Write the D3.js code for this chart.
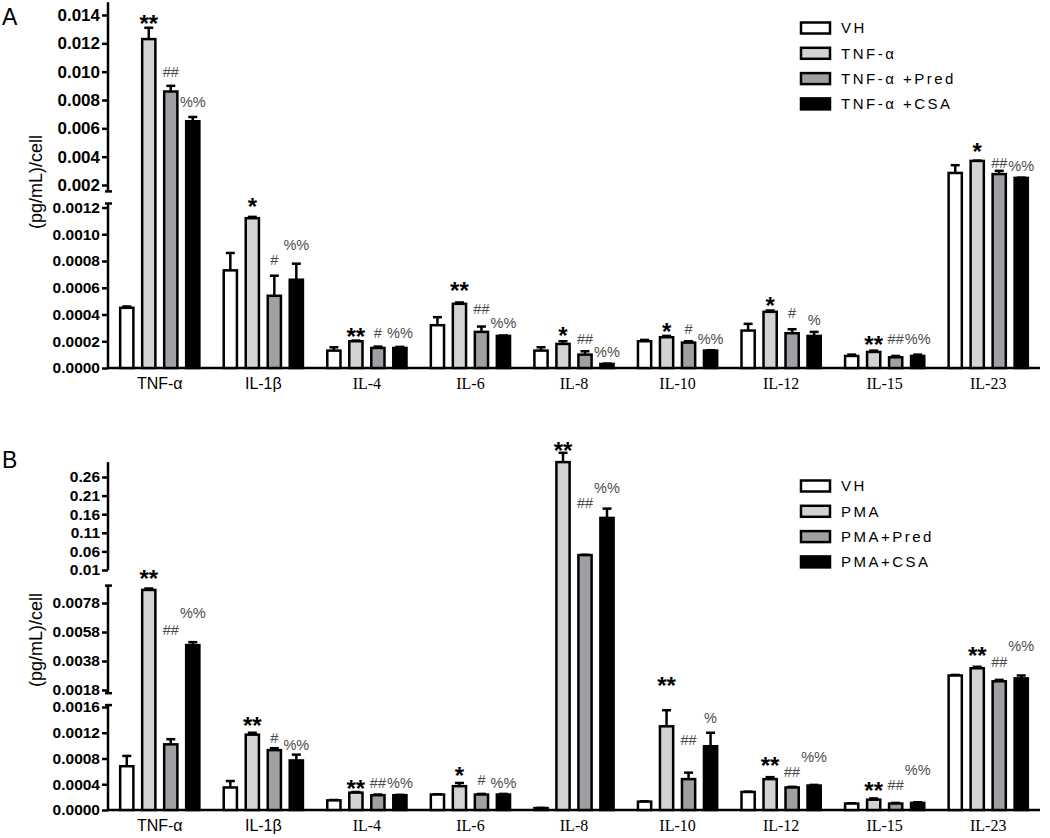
<!DOCTYPE html>
<html><head><meta charset="utf-8">
<script src="https://cdn.jsdelivr.net/npm/d3@7"></script>
<style>body{margin:0;background:#fff}</style>
</head><body><svg id="c" width="1050" height="838"></svg>
<script>
// ---------- DATA ----------
const categories = ["TNF-α","IL-1β","IL-4","IL-6","IL-8","IL-10","IL-12","IL-15","IL-23"];
const seriesA = ["VH","TNF-α","TNF-α +Pred","TNF-α +CSA"];
const seriesB = ["VH","PMA","PMA+Pred","PMA+CSA"];

// Panel A means and SEM
const aVH      = [0.00045, 0.00073, 0.00013, 0.00032, 0.00013, 0.00020, 0.00028, 0.00009, 0.00285];
const aVHsem   = [0.00001, 0.00013, 0.000025,0.00006, 0.000025,0.00001, 0.00005, 0.00001, 0.00055];
const aTNF     = [0.0123,  0.00112, 0.00020, 0.00048, 0.00018, 0.00023, 0.00042, 0.00012, 0.00370];
const aTNFsem  = [0.0008,  0.00001, 0.000005,0.00001, 0.00002, 0.00001, 0.00001, 0.00001, 0.00002];
const aPred    = [0.0086,  0.00054, 0.00015, 0.00027, 0.00010, 0.00019, 0.00026, 0.00008, 0.00277];
const aPredsem = [0.0004,  0.00015, 0.00001, 0.00004, 0.000025,0.00001, 0.00003, 0.00001, 0.00023];
const aCSA     = [0.0065,  0.00066, 0.00015, 0.00024, 0.00003, 0.00013, 0.00024, 0.00009, 0.00250];
const aCSAsem  = [0.0003,  0.00012, 0.000008,0.000003,0.000003,0.000003,0.00003, 0.00001, 0.00002];

// Panel B means and SEM
const bVH      = [0.00068, 0.00035, 0.00015, 0.00024, 0.00003, 0.00013, 0.00028, 0.00010, 0.0028];
const bVHsem   = [0.00016, 0.00010, 0.000005,0.000005,0.000003,0.000005,0.000005,0.000005,0.00004];
const bPMA     = [0.0087,  0.00117, 0.00027, 0.00037, 0.30,    0.00130, 0.00048, 0.00016, 0.0033];
const bPMAsem  = [0.0001,  0.00003, 0.00001, 0.00005, 0.025,   0.00025, 0.00003, 0.00002, 0.0001];
const bPred    = [0.00102, 0.00093, 0.00023, 0.00024, 0.050,   0.00048, 0.00035, 0.00010, 0.0024];
const bPredsem = [0.00008, 0.00003, 0.00001, 0.00001, 0.001,   0.00010, 0.00001, 0.00001, 0.0001];
const bCSA     = [0.0049,  0.00077, 0.00023, 0.00024, 0.150,   0.00099, 0.00038, 0.00011, 0.0026];
const bCSAsem  = [0.0002,  0.00009, 0.000005,0.00001, 0.025,   0.00021, 0.00001, 0.00001, 0.0002];

// Significance labels and the value each label is anchored at
const aSigTNF  = ["**","*","**","**","*","*","*","**","*"];
const aSigPred = ["##","#","#","##","##","#","#","##","##"];
const aSigCSA  = ["%%","%%","%%","%%","%%","%%","%","%%","%%"];
const aAtTNF   = [0.0138, 0.00125, 0.00028, 0.00062, 0.00029, 0.00032, 0.00051, 0.00022, 0.00475];
const aAtPred  = [0.00998,0.00081, 0.00026, 0.00044, 0.00022, 0.00029, 0.00041, 0.00022, 0.00355];
const aAtCSA   = [0.00786,0.00092, 0.00026, 0.00034, 0.00012, 0.00022, 0.00036, 0.00022, 0.00334];

const bSigPMA  = ["**","**","**","*","**","**","**","**","**"];
const bSigPred = ["##","#","##","#","##","##","##","##","##"];
const bSigCSA  = ["%%","%%","%%","%%","%%","%","%%","%%","%%"];
const bAtPMA   = [0.0099, 0.0014,  0.00043, 0.00062, 0.346, 0.00202, 0.00078, 0.00039, 0.00456];
const bAtPred  = [0.0028, 0.00112, 0.00043, 0.00047, 0.19,  0.00109, 0.00059, 0.00039, 0.00373];
const bAtCSA   = [0.0071, 0.00101, 0.00043, 0.00042, 0.23,  0.00144, 0.00082, 0.00062, 0.00484];

// Tick values
const ticksAUpper = [0.002,0.004,0.006,0.008,0.010,0.012,0.014];
const ticksALower = [0,0.0002,0.0004,0.0006,0.0008,0.0010,0.0012];
const ticksBTop   = [0.01,0.06,0.11,0.16,0.21,0.26];
const ticksBMid   = [0.0018,0.0038,0.0058,0.0078];
const ticksBLow   = [0,0.0004,0.0008,0.0012,0.0016];

// ---------- DRAWING ----------
const fills = ["#ffffff","#d3d3d3","#a0a0a4","#000000"];
const svg = d3.select("#c");
const SANS = "'Liberation Sans', Arial, sans-serif";
const SERIF = "'Liberation Serif', 'Times New Roman', serif";
const AX = 108, XR = 1040;

const x0 = d3.scaleBand().domain(categories).range([AX, XR]);
const x1 = d3.scaleBand().domain([0,1,2,3]).range([-44, 44]).paddingInner(0.4).paddingOuter(0.2);

function drawPanel(p) {
  const g = svg.append("g");
  const segFor = v => p.segments.find(s => p.pick(v) === s.id);

  // axis segments
  p.segments.forEach(s => {
    const y0 = s.scale(s.extent[0]), y1 = s.scale(s.extent[1]);
    g.append("line").attr("x1", AX).attr("x2", AX).attr("y1", y0).attr("y2", y1)
      .attr("stroke", "#000").attr("stroke-width", 2.5);
    s.caps.forEach(c => {
      const yy = s.scale(s.extent[c]);
      g.append("line").attr("x1", AX - 3).attr("x2", AX + 4).attr("y1", yy).attr("y2", yy)
        .attr("stroke", "#000").attr("stroke-width", 2.5);
    });
    const ax = g.append("g").attr("transform", `translate(${AX},0)`)
      .call(d3.axisLeft(s.scale).tickValues(s.ticks).tickFormat(s.fmt).tickSize(6).tickPadding(2));
    ax.select(".domain").remove();
    ax.selectAll(".tick line").attr("stroke", "#000").attr("stroke-width", 2.5);
    ax.selectAll(".tick text").attr("fill", "#000").style("font-family", SANS)
      .style("font-weight", "bold").style("font-size", s.fontSize + "px");
  });

  // x axis
  g.append("line").attr("x1", AX).attr("x2", XR).attr("y1", p.base).attr("y2", p.base)
    .attr("stroke", "#000").attr("stroke-width", 2.5);
  categories.forEach((c, i) => {
    g.append("text").attr("x", x0(c) + x0.bandwidth() / 2).attr("y", p.base + 21)
      .attr("text-anchor", "middle").style("font-family", i < 2 ? SANS : SERIF)
      .style("font-size", "16px").text(c);
  });

  // bars
  const bw = x1.bandwidth();
  p.means.forEach((arr, j) => {
    arr.forEach((v, i) => {
      const s = segFor(v);
      const cx = x0(categories[i]) + x0.bandwidth() / 2 + x1(j) + bw / 2;
      const y = s.scale(v);
      const sem = p.sems[j][i];
      if (sem > 0) {
        const yt = s.scale(v + sem);
        g.append("line").attr("x1", cx).attr("x2", cx).attr("y1", y).attr("y2", yt)
          .attr("stroke", "#000").attr("stroke-width", 2.5);
        g.append("line").attr("x1", cx - 4.5).attr("x2", cx + 4.5).attr("y1", yt).attr("y2", yt)
          .attr("stroke", "#000").attr("stroke-width", 2.5);
      }
      g.append("rect").attr("x", cx - bw / 2).attr("y", y).attr("width", bw)
        .attr("height", p.base - y).attr("fill", fills[j]).attr("stroke", "#000").attr("stroke-width", 2.5);
    });
  });

  // significance marks
  p.sigs.forEach((labs, k) => {
    const j = k + 1;
    labs.forEach((lab, i) => {
      const s = segFor(p.means[j][i]);
      const cx = x0(categories[i]) + x0.bandwidth() / 2 + x1(j) + bw / 2;
      const star = lab[0] === "*";
      g.append("text").attr("x", cx).attr("y", s.scale(p.sigAt[k][i]))
        .attr("dy", star ? "0.6em" : "0.36em").attr("text-anchor", "middle")
        .attr("fill", star ? "#000" : "#4a4a4a")
        .style("font-family", SANS).style("font-weight", star ? "bold" : "normal")
        .style("font-size", star ? "24px" : "14.5px").text(lab);
    });
  });

  // legend
  p.series.forEach((name, j) => {
    const yy = p.legendY + j * p.legendStep;
    g.append("rect").attr("x", 801).attr("y", yy - 5.5).attr("width", 29).attr("height", 11)
      .attr("fill", fills[j]).attr("stroke", "#000").attr("stroke-width", 2.5);
    g.append("text").attr("x", 841).attr("y", yy).attr("dy", "0.35em")
      .style("font-family", SANS).style("font-size", "15px").style("letter-spacing", "2.5px").text(name);
  });

  // y label and panel letter
  g.append("text").attr("transform", `translate(42,${p.labelY}) rotate(-90)`)
    .attr("text-anchor", "middle").style("font-family", SANS).style("font-size", "18px")
    .text("(pg/mL)/cell");
  g.append("text").attr("x", 2).attr("y", p.letterY).style("font-family", SANS)
    .style("font-size", "23px").text(p.letter);
}

drawPanel({
  letter: "A", letterY: 25, labelY: 182, base: 368, legendY: 28, legendStep: 25.3,
  series: seriesA,
  means: [aVH, aTNF, aPred, aCSA], sems: [aVHsem, aTNFsem, aPredsem, aCSAsem],
  sigs: [aSigTNF, aSigPred, aSigCSA], sigAt: [aAtTNF, aAtPred, aAtCSA],
  pick: v => v > 0.0015 ? "u" : "l",
  segments: [
    { id: "u", scale: d3.scaleLinear([0.002, 0.014], [185, 15]), extent: [0.00155, 0.0149], caps: [0],
      ticks: ticksAUpper, fmt: d3.format(".3f"), fontSize: 17 },
    { id: "l", scale: d3.scaleLinear([0, 0.0012], [368, 207.5]), extent: [0, 0.00123], caps: [1],
      ticks: ticksALower, fmt: d3.format(".4f"), fontSize: 15.5 }
  ]
});

drawPanel({
  letter: "B", letterY: 468, labelY: 640, base: 810, legendY: 486, legendStep: 25.3,
  series: seriesB,
  means: [bVH, bPMA, bPred, bCSA], sems: [bVHsem, bPMAsem, bPredsem, bCSAsem],
  sigs: [bSigPMA, bSigPred, bSigCSA], sigAt: [bAtPMA, bAtPred, bAtCSA],
  pick: v => v >= 0.01 ? "t" : (v > 0.0016 ? "m" : "l"),
  segments: [
    { id: "t", scale: d3.scaleLinear([0.01, 0.26], [570, 477]), extent: [0.0095, 0.30], caps: [],
      ticks: ticksBTop, fmt: d3.format(".2f"), fontSize: 15.5 },
    { id: "m", scale: d3.scaleLinear([0.0018, 0.0078], [690, 603]), extent: [0.00158, 0.0090], caps: [0, 1],
      ticks: ticksBMid, fmt: d3.format(".4f"), fontSize: 15.5 },
    { id: "l", scale: d3.scaleLinear([0, 0.0016], [810, 707]), extent: [0, 0.00163], caps: [1],
      ticks: ticksBLow, fmt: d3.format(".4f"), fontSize: 15.5 }
  ]
});
</script>
</body></html>
